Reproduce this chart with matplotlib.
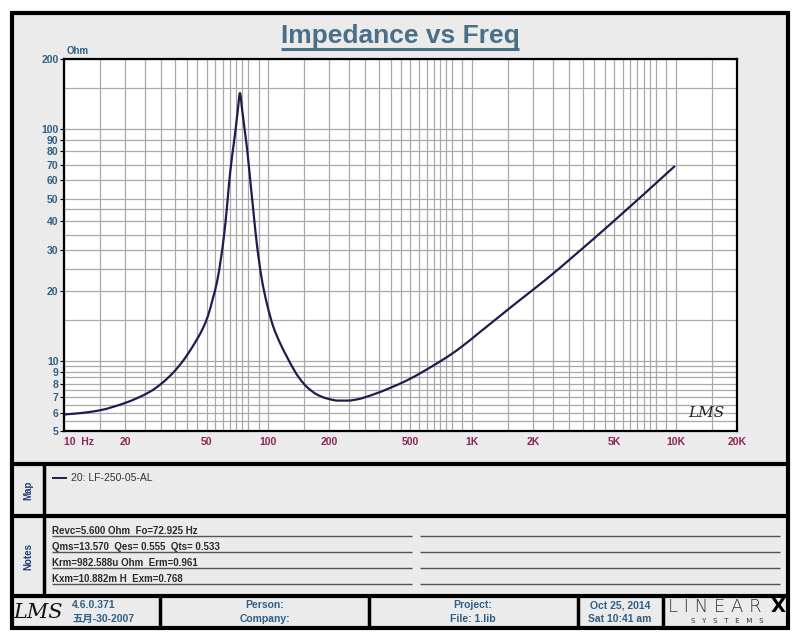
import numpy as np
import matplotlib
matplotlib.use('Agg')
import matplotlib.pyplot as plt
from matplotlib.patches import Rectangle, PathPatch
from matplotlib.lines import Line2D
from matplotlib.path import Path
from matplotlib.ticker import NullLocator, FixedLocator

# ---------------- data ----------------
freq_hz = [10, 12.25, 15.0, 20.1, 26.4, 29.9, 34.2, 38.3, 42.9, 48.1, 50.8,
           53.8, 56.3, 58.9, 60.9, 62.8, 64.4, 66.4, 68.2, 69.7, 71.2, 72.96,
           74.8, 76.6, 78.35, 80.1, 82.4, 84.8, 88.4, 93.5, 99.0, 106.3,
           114.7, 124.1, 132.8, 143.7, 155.5, 174.1, 195.0, 220.7, 247.1,
           273.5, 328.8, 397.0, 479.6, 578.2, 698.2, 843.4, 1097, 1375, 1723,
           2242, 4763, 9922]
impedance_ohm = [5.89, 5.98, 6.14, 6.62, 7.38, 7.97, 8.89, 10.01, 11.61, 13.89,
                 15.64, 18.70, 21.92, 27.80, 34.58, 44.74, 57.35, 73.46, 87.8,
                 102.2, 120.6, 142.4, 120.6, 102.2, 87.8, 73.46, 57.35, 44.74,
                 31.62, 22.36, 17.62, 14.07, 11.96, 10.42, 9.33, 8.37, 7.73,
                 7.18, 6.90, 6.76, 6.76, 6.84, 7.18, 7.66, 8.25, 9.02, 9.96,
                 11.11, 13.34, 15.64, 18.33, 21.98, 38.75, 69.23]

x_tick_values = [10, 20, 50, 100, 200, 500, 1000, 2000, 5000, 10000, 20000]
x_tick_labels = ['10  Hz', '20', '50', '100', '200', '500', '1K', '2K', '5K', '10K', '20K']
y_tick_values = [5, 6, 7, 8, 9, 10, 20, 30, 40, 50, 60, 70, 80, 90, 100, 200]
y_tick_labels = ['5', '6', '7', '8', '9', '10', '20', '30', '40', '50', '60',
                 '70', '80', '90', '100', '200']
x_grid_mult = [1, 1.5, 2, 2.5, 3, 3.5, 4, 4.5, 5, 5.5, 6, 6.5, 7, 7.5, 8, 9]
x_grid_decades = [10, 100, 1000, 10000]
y_grid_values = [5, 5.5, 6, 6.5, 7, 7.5, 8, 8.5, 9, 9.5, 10, 15, 20, 25, 30, 35,
                 40, 45, 50, 60, 70, 80, 90, 100, 150, 200]

title_text = 'Impedance vs Freq'
y_unit = 'Ohm'
series_label = '20: LF-250-05-AL'
notes_lines = ['Revc=5.600 Ohm  Fo=72.925 Hz',
               'Qms=13.570  Qes= 0.555  Qts= 0.533',
               'Krm=982.588u Ohm  Erm=0.961',
               'Kxm=10.882m H  Exm=0.768']
footer_version = ['4.6.0.371', '五月-30-2007']
footer_person = ['Person:', 'Company:']
footer_project = ['Project:', 'File: 1.lib']
footer_date = ['Oct 25, 2014', 'Sat 10:41 am']

# ---------------- styling ----------------
W, H = 800, 640
NARROW = ['Liberation Sans Narrow', 'Liberation Sans', 'DejaVu Sans']
CJK = ['Liberation Sans', 'Noto Sans CJK SC', 'DejaVu Sans']
BG = '#ebebeb'
CURVE = '#1d1d50'
BLUE = '#2f5f84'
XRED = '#8c2456'
GRID = '#a9a9a9'

fig = plt.figure(figsize=(8, 6.4), dpi=100)
fig.patch.set_facecolor('white')


def fx(x):
    return x / W


def fy(y):
    return 1 - y / H


def add_rect(x0, y0, x1, y1, fc, ec='none', lw=0, z=0):
    fig.add_artist(Rectangle((fx(x0), fy(y1)), (x1 - x0) / W, (y1 - y0) / H,
                             transform=fig.transFigure, facecolor=fc,
                             edgecolor=ec, linewidth=lw, zorder=z))


def add_line(x0, y0, x1, y1, lw=1.0, color='black', z=1):
    fig.add_artist(Line2D([fx(x0), fx(x1)], [fy(y0), fy(y1)],
                          transform=fig.transFigure, color=color, lw=lw,
                          zorder=z, solid_capstyle='butt'))


def smooth_loglog_path(xs, ys):
    """Monotone cubic Bezier path through the points, built in log-log space."""
    lx = np.log10(np.asarray(xs, float))
    ly = np.log10(np.asarray(ys, float))
    h = np.diff(lx)
    d = np.diff(ly) / h
    n = len(lx)
    m = np.zeros(n)
    m[0], m[-1] = d[0], d[-1]
    for k in range(1, n - 1):
        if d[k - 1] * d[k] <= 0:
            m[k] = 0.0
        else:
            w1 = 2 * h[k] + h[k - 1]
            w2 = h[k] + 2 * h[k - 1]
            m[k] = (w1 + w2) / (w1 / d[k - 1] + w2 / d[k])
    verts = [(lx[0], ly[0])]
    codes = [Path.MOVETO]
    for k in range(n - 1):
        verts += [(lx[k] + h[k] / 3, ly[k] + m[k] * h[k] / 3),
                  (lx[k + 1] - h[k] / 3, ly[k + 1] - m[k + 1] * h[k] / 3),
                  (lx[k + 1], ly[k + 1])]
        codes += [Path.CURVE4] * 3
    verts = 10 ** np.array(verts)
    return Path(verts, codes)


# outer panel
add_rect(12, 13, 788, 628, BG, 'black', 3, z=0)
for yy in (464, 516, 596):
    add_line(12, yy, 788, yy, lw=3)
add_line(44, 464, 44, 596, lw=2.5)
for xx in (160, 369, 578, 663):
    add_line(xx, 596, xx, 628, lw=2.5)

# ---------------- main plot ----------------
L, R, T, B = 64, 737, 59, 431
ax = fig.add_axes([fx(L), fy(B), (R - L) / W, (B - T) / H])
ax.set_facecolor('white')
ax.set_xscale('log')
ax.set_yscale('log')
ax.set_xlim(10, 20000)
ax.set_ylim(5, 200)

x_grid = [m * d for d in x_grid_decades for m in x_grid_mult if m * d <= 20000] + [20000]
for gx in x_grid:
    ax.axvline(gx, color=GRID, lw=0.9, zorder=1)
for gy in y_grid_values:
    ax.axhline(gy, color=GRID, lw=0.9, zorder=1)

ax.add_patch(PathPatch(smooth_loglog_path(freq_hz, impedance_ohm), fill=False,
                       edgecolor=CURVE, lw=1.6, zorder=3,
                       label=series_label))

ax.xaxis.set_major_locator(FixedLocator(x_tick_values))
ax.xaxis.set_minor_locator(NullLocator())
ax.yaxis.set_major_locator(FixedLocator(y_tick_values))
ax.yaxis.set_minor_locator(NullLocator())
ax.set_xticklabels(x_tick_labels)
ax.set_yticklabels(y_tick_labels)
ax.tick_params(axis='x', length=0, pad=4, labelsize=7.5, labelcolor=XRED)
ax.tick_params(axis='y', length=3, width=0.8, pad=1, labelsize=7.5, labelcolor=BLUE)
for lab in ax.get_xticklabels() + ax.get_yticklabels():
    lab.set_family(NARROW)
    lab.set_fontweight('bold')
ax.get_xticklabels()[0].set_ha('left')
for sp in ax.spines.values():
    sp.set_linewidth(1.6)
    sp.set_color('black')
    sp.set_zorder(4)

ax.text(0.955, 0.03, 'LMS', transform=ax.transAxes, ha='center', va='bottom',
        fontsize=11, style='italic', family='DejaVu Serif', color='#222222',
        zorder=5)

# title + unit
t = fig.text(fx(400), fy(36), title_text, ha='center', va='center',
             fontsize=19, fontweight='bold', color='#4a6f87', family=NARROW)
fig.canvas.draw()
bb = t.get_window_extent(fig.canvas.get_renderer())
px = fig.get_figwidth() * fig.dpi
add_line(bb.x0 / px * W, 49, bb.x1 / px * W, 49, lw=2.2, color='#4a6f87')
fig.text(fx(67), fy(51), y_unit, ha='left', va='center', fontsize=7,
         fontweight='bold', color=BLUE, family=NARROW)

# ---------------- map section ----------------
fig.text(fx(28), fy(490), 'Map', rotation=90, ha='center', va='center',
         fontsize=7, fontweight='bold', color='#1e3f73', family=NARROW)
add_line(52, 478, 67, 478, lw=1.4, color=CURVE, z=2)
fig.text(fx(71), fy(478), series_label, ha='left', va='center', fontsize=7.5,
         color='#333333', family=NARROW)

# ---------------- notes section ----------------
fig.text(fx(28), fy(556), 'Notes', rotation=90, ha='center', va='center',
         fontsize=7, fontweight='bold', color='#1e3f73', family=NARROW)
note_y = [531, 547, 563, 579]
for yy, txt in zip(note_y, notes_lines):
    fig.text(fx(52), fy(yy), txt, ha='left', va='center', fontsize=7,
             fontweight='bold', color='#2a2a2a', family=NARROW)
    add_line(52, yy + 5, 412, yy + 5, lw=1, color='#555555', z=2)
    add_line(420, yy + 5, 780, yy + 5, lw=1, color='#555555', z=2)

# ---------------- footer ----------------
fig.text(fx(38), fy(612), 'LMS', ha='center', va='center', fontsize=15,
         style='italic', family='DejaVu Serif', color='#111111')
for yy, txt in zip((605, 619), footer_version):
    fig.text(fx(72), fy(yy), txt, ha='left', va='center', fontsize=7.5,
             fontweight='bold', color=BLUE, family=CJK)
for cx, lines in ((265, footer_person), (473, footer_project), (620, footer_date)):
    for yy, txt in zip((605, 619), lines):
        fig.text(fx(cx), fy(yy), txt, ha='center', va='center', fontsize=7.5,
                 fontweight='bold', color=BLUE, family=NARROW)
fig.text(fx(668), fy(607), 'L I N E A R', ha='left', va='center', fontsize=13,
         color='#333333', family='DejaVu Sans', fontweight='light')
fig.text(fx(786), fy(607), 'X', ha='right', va='center', fontsize=14,
         color='black', family='DejaVu Sans', fontweight='bold')
fig.text(fx(727), fy(621), 'S   Y   S   T   E   M   S', ha='center', va='center',
         fontsize=5, color='#333333', family='DejaVu Sans')

fig.savefig('out.png', dpi=100, facecolor=fig.get_facecolor())
